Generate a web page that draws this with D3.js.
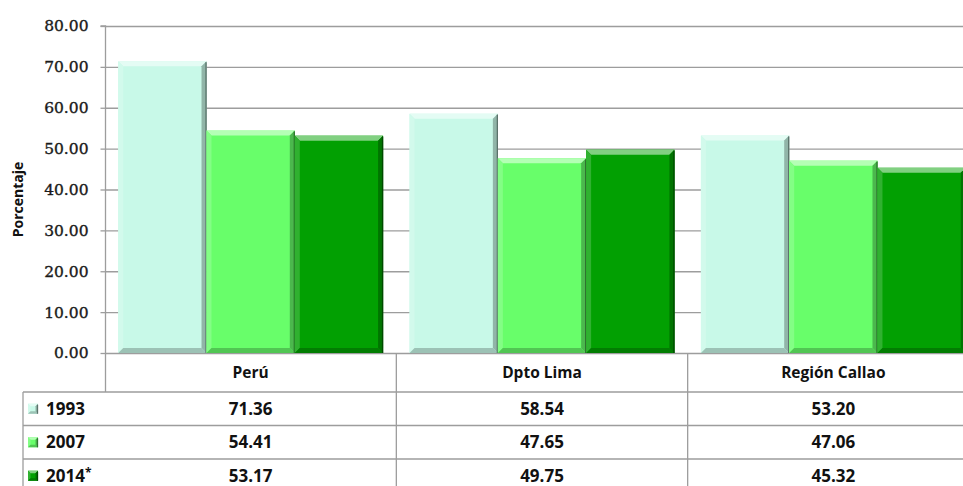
<!DOCTYPE html>
<html><head><meta charset="utf-8">
<script src="https://cdn.jsdelivr.net/npm/d3@7"></script>
<style>body{margin:0;background:#fff}svg{display:block}</style>
</head><body>
<svg id="c" width="963" height="486"></svg>
<script>
const categories = ["Perú", "Dpto Lima", "Región Callao"];
const seriesNames = ["1993", "2007", "2014*"];
const values1993 = [71.36, 58.54, 53.20];
const values2007 = [54.41, 47.65, 47.06];
const values2014 = [53.17, 49.75, 45.32];
const seriesValues = [values1993, values2007, values2014];
const labels1993 = ["71.36", "58.54", "53.20"];
const labels2007 = ["54.41", "47.65", "47.06"];
const labels2014 = ["53.17", "49.75", "45.32"];
const seriesLabels = [labels1993, labels2007, labels2014];
const yTicks = [0, 10, 20, 30, 40, 50, 60, 70, 80];
const colors = ["#c8f9e8", "#68fe6a", "#02a002"];

const svg = d3.select("#c");
const L = 105, R = 979, T = 26, B = 353;
const x = d3.scaleBand().domain(categories).range([L, R]);
const xs = d3.scaleBand().domain(seriesNames).range([0, x.bandwidth()]).paddingOuter(0.15);
const y = d3.scaleLinear().domain([0, 80]).range([B, T]);
const grid = "#9d9d9d";

// gridlines
svg.append("g").selectAll("line").data(yTicks).join("line")
  .attr("x1", L).attr("x2", 963).attr("y1", d => y(d) + 0.5).attr("y2", d => y(d) + 0.5)
  .attr("stroke", grid).attr("stroke-width", 1.3);

// y axis
const ya = svg.append("g").attr("transform", `translate(${L + 0.5},0)`)
  .call(d3.axisLeft(y).tickValues(yTicks).tickFormat(d3.format(".2f")).tickSize(5).tickPadding(12));
ya.select(".domain").attr("stroke", grid).attr("stroke-width", 1.3).attr("d", `M-5,${T}H0V${B + 39}`);
ya.selectAll(".tick line").attr("stroke", grid).attr("stroke-width", 1.3);
ya.selectAll(".tick text").attr("font-family", "DejaVu Serif").attr("font-size", 15.5)
  .attr("fill", "#1a1a1a").attr("stroke", "#1a1a1a").attr("stroke-width", 0.35);

svg.append("text").attr("transform", `translate(23,${(T + B) / 2 + 10}) rotate(-90)`)
  .attr("text-anchor", "middle").attr("font-family", "Open Sans").attr("font-weight", "bold")
  .attr("font-size", 14).attr("fill", "#111").text("Porcentaje");

// bevel drawing
function bevel(g, x0, y0, w, h, col, b) {
  const c = d3.color(col);
  const x1 = x0 + w, y1 = y0 + h;
  g.append("rect").attr("x", x0).attr("y", y0).attr("width", w).attr("height", h).attr("fill", col);
  const poly = (pts, f) => g.append("polygon").attr("points", pts.map(p => p.join(",")).join(" ")).attr("fill", f);
  poly([[x0, y0], [x1, y0], [x1 - b, y0 + b], [x0 + b, y0 + b]], d3.interpolateRgb(col, "#ffffff")(0.5));
  poly([[x0, y0], [x0 + b, y0 + b], [x0 + b, y1 - b], [x0, y1]], d3.interpolateRgb(col, "#ffffff")(0.18));
  poly([[x1, y0], [x1, y1], [x1 - b, y1 - b], [x1 - b, y0 + b]], c.darker(0.9).formatHex());
  poly([[x0, y1], [x1, y1], [x1 - b, y1 - b], [x0 + b, y1 - b]], c.darker(0.7).formatHex());
  g.append("line").attr("x1", x1 - 0.5).attr("x2", x1 - 0.5).attr("y1", y0 + 1).attr("y2", y1)
    .attr("stroke", c.darker(2.2).formatHex()).attr("stroke-width", 1.3);
}

const bars = svg.append("g");
categories.forEach((cat, ci) => {
  seriesNames.forEach((s, si) => {
    const v = seriesValues[si][ci];
    const x0 = x(cat) + xs(s);
    bevel(bars, x0, y(v), xs.bandwidth(), y(0) - y(v), colors[si], 5);
  });
});

// table
const rowTop = [392, 425.5, 459];
const rowH = 33.5;
const tbl = svg.append("g");
const tf = "Open Sans";
tbl.selectAll(".hv").data(categories).join("line")
  .attr("x1", d => x(d) + x.bandwidth()).attr("x2", d => x(d) + x.bandwidth())
  .attr("y1", B).attr("y2", 486).attr("stroke", grid).attr("stroke-width", 1.3);
tbl.append("line").attr("x1", 23).attr("x2", 23).attr("y1", 392).attr("y2", 486)
  .attr("stroke", grid).attr("stroke-width", 1.3);
tbl.selectAll(".hl").data(rowTop.concat([492.5])).join("line")
  .attr("x1", 23).attr("x2", 963).attr("y1", d => d).attr("y2", d => d)
  .attr("stroke", grid).attr("stroke-width", 1.3);
tbl.selectAll(".ht").data(categories).join("text")
  .attr("x", d => x(d) + x.bandwidth() / 2).attr("y", 373).attr("dy", "0.35em")
  .attr("text-anchor", "middle").attr("font-family", tf).attr("font-weight", "bold")
  .attr("font-size", 15.5).attr("fill", "#111").text(d => d);

seriesNames.forEach((s, si) => {
  const yc = rowTop[si] + rowH / 2;
  bevel(tbl, 28, yc - 5, 10, 10, colors[si], 2.5);
  tbl.append("text").attr("x", 46).attr("y", yc).attr("dy", "0.35em")
    .attr("font-family", tf).attr("font-weight", "bold").attr("font-size", 17).attr("fill", "#111")
    .text(s.replace("*", "")).append("tspan").attr("dy", "-0.4em").attr("font-size", 12)
    .text(s.includes("*") ? "*" : "");
  tbl.selectAll(null).data(categories).join("text")
    .attr("x", d => x(d) + x.bandwidth() / 2).attr("y", yc).attr("dy", "0.35em")
    .attr("text-anchor", "middle").attr("font-family", tf).attr("font-weight", "bold")
    .attr("font-size", 17).attr("fill", "#111").text((d, i) => seriesLabels[si][i]);
});
</script>
</body></html>
